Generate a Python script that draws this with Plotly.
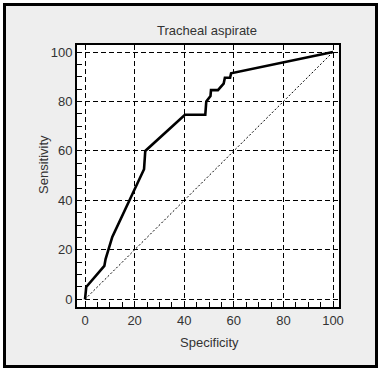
import plotly.graph_objects as go

# ROC curve data
specificity = [0, 0.5, 7.8, 8.3, 11, 23.8, 24.3, 40.3, 48.5, 48.9, 50.6, 50.8, 53.6, 55.9, 56.4, 58.5, 58.9, 100]
sensitivity = [0, 5, 13.5, 16.3, 25.2, 52.6, 60, 74.6, 74.6, 80, 82.2, 84.6, 84.6, 87.2, 89.6, 89.6, 91.4, 100]
diag_x = [0, 100]
diag_y = [0, 100]
tick_vals = [0, 20, 40, 60, 80, 100]
tick_text = ["0", "20", "40", "60", "80", "100"]

W, H = 380, 371
ml, mr, mt, mb = 77, 41, 45, 64
pw, ph = W - ml - mr, H - mt - mb

def px_to_paper_x(px):
    return (px - ml) / pw

def px_to_paper_y(py):
    return (H - mb - py) / ph

fig = go.Figure()
fig.add_trace(go.Scatter(x=diag_x, y=diag_y, mode="lines",
                         line=dict(color="black", width=1, dash="2px,2px"),
                         hoverinfo="skip", showlegend=False))
fig.add_trace(go.Scatter(x=specificity, y=sensitivity, mode="lines",
                         line=dict(color="black", width=2.6),
                         showlegend=False))

font = dict(family="Liberation Sans, Arial, sans-serif", size=13, color="#333333")

axis_common = dict(
    showline=True, linecolor="black", linewidth=2, mirror=True,
    showgrid=True, gridcolor="black", gridwidth=1, griddash="5px,3px",
    zeroline=False,
    ticks="inside", ticklen=5, tickcolor="black", tickwidth=1,
    tickvals=tick_vals, ticktext=tick_text,
    minor=dict(dtick=5, tick0=0, ticks="inside", ticklen=5, tickcolor="black",
               tickwidth=1, showgrid=False),
    tickfont=font,
)

fig.update_xaxes(range=[-3.23, 102.42], **axis_common)
fig.update_yaxes(range=[-3.11, 102.83], **axis_common)

fig.update_layout(
    width=W, height=H,
    margin=dict(l=ml, r=mr, t=mt, b=mb, pad=0),
    paper_bgcolor="#eeeeee",
    plot_bgcolor="white",
    font=font,
    shapes=[
        # white outer margin strip
        dict(type="rect", xref="paper", yref="paper", layer="above",
             x0=px_to_paper_x(0), x1=px_to_paper_x(W),
             y0=px_to_paper_y(H), y1=px_to_paper_y(0),
             fillcolor="rgba(0,0,0,0)", line=dict(color="white", width=6)),
        # black border
        dict(type="rect", xref="paper", yref="paper", layer="above",
             x0=px_to_paper_x(4.5), x1=px_to_paper_x(376.5),
             y0=px_to_paper_y(366.5), y1=px_to_paper_y(4.5),
             fillcolor="rgba(0,0,0,0)", line=dict(color="black", width=3)),
    ],
    annotations=[
        dict(text="Tracheal aspirate", xref="paper", yref="paper",
             x=px_to_paper_x(207), y=px_to_paper_y(30), showarrow=False,
             xanchor="center", yanchor="middle", font=font),
        dict(text="Specificity", xref="paper", yref="paper",
             x=px_to_paper_x(209), y=px_to_paper_y(342), showarrow=False,
             xanchor="center", yanchor="middle", font=font),
        dict(text="Sensitivity", xref="paper", yref="paper", textangle=-90,
             x=px_to_paper_x(43), y=px_to_paper_y(165), showarrow=False,
             xanchor="center", yanchor="middle", font=font),
    ],
)

fig.write_html("out.html",
               config={"displayModeBar": False},
               post_script="document.body.style.margin='0';document.body.style.padding='0';document.body.style.overflow='hidden';")
